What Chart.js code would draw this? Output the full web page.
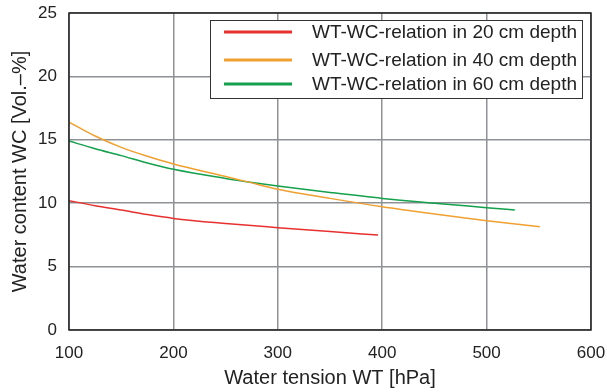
<!DOCTYPE html>
<html>
<head>
    <title>WT-WC relation</title>
    <script src="https://cdn.jsdelivr.net/npm/chart.js"></script>
    <style>
        html, body { margin: 0; padding: 0; background: #fff; }
        #wrap { width: 607px; height: 392px; }
    </style>
</head>
<body>
<div id="wrap"><canvas id="chart"></canvas></div>
<script>
    // values (water tension in hPa, water content in Vol.-%)
    var tension20 = [100, 125, 150, 175, 200, 250, 300, 350, 396];
    var content20 = [10.2, 9.8, 9.46, 9.1, 8.8, 8.4, 8.07, 7.76, 7.49];

    var tension40 = [100, 125, 150, 175, 200, 250, 270, 300, 350, 400, 450, 500, 551];
    var content40 = [16.4, 15.3, 14.4, 13.7, 13.09, 12.1, 11.7, 11.1, 10.38, 9.72, 9.15, 8.62, 8.15];

    var tension60 = [100, 125, 150, 175, 200, 250, 270, 300, 350, 400, 450, 500, 527];
    var content60 = [14.9, 14.3, 13.75, 13.17, 12.67, 11.95, 11.7, 11.36, 10.85, 10.38, 10.0, 9.65, 9.46];

    var seriesLabels = [
        "WT-WC-relation in 20 cm depth",
        "WT-WC-relation in 40 cm depth",
        "WT-WC-relation in 60 cm depth"
    ];
    var seriesColors = ["#e8312f", "#f0a030", "#14a04c"];

    var xTicks = [100, 200, 300, 400, 500, 600];
    var yTicks = [0, 5, 10, 15, 20, 25];

    function toPoints(xs, ys) {
        var pts = [];
        for (var i = 0; i < xs.length; i++) {
            pts.push({ x: xs[i], y: ys[i] });
        }
        return pts;
    }

    var FONT = "'Liberation Sans', Arial, Helvetica, sans-serif";
    var TEXT = "#222";

    // frame around the plot area + legend box inside it
    var framePlugin = {
        id: "frame",
        afterDatasetsDraw: function (chart) {
            var ctx = chart.ctx, a = chart.chartArea;
            ctx.save();
            ctx.strokeStyle = "#222";
            ctx.lineWidth = 1.5;
            ctx.strokeRect(a.left, a.top, a.right - a.left, a.bottom - a.top);

            // legend
            var bx = a.left + 141, by = a.top + 7, bw = 372, bh = 78;
            ctx.fillStyle = "#fff";
            ctx.fillRect(bx, by, bw, bh);
            ctx.strokeStyle = "#333";
            ctx.lineWidth = 1;
            ctx.strokeRect(bx + 0.5, by + 0.5, bw, bh);
            ctx.font = "19px " + FONT;
            ctx.textBaseline = "middle";
            ctx.textAlign = "left";
            var rows = [by + 12, by + 40, by + 64];
            chart.data.datasets.forEach(function (ds, i) {
                ctx.strokeStyle = ds.borderColor;
                ctx.lineWidth = 3;
                ctx.beginPath();
                ctx.moveTo(bx + 14, rows[i]);
                ctx.lineTo(bx + 82, rows[i]);
                ctx.stroke();
                ctx.fillStyle = TEXT;
                ctx.fillText(ds.label, bx + 102, rows[i] + 1);
            });
            ctx.restore();
        }
    };

    var datasets = [
        { label: seriesLabels[0], data: toPoints(tension20, content20), borderColor: seriesColors[0] },
        { label: seriesLabels[1], data: toPoints(tension40, content40), borderColor: seriesColors[1] },
        { label: seriesLabels[2], data: toPoints(tension60, content60), borderColor: seriesColors[2] }
    ];
    datasets.forEach(function (ds) {
        ds.borderWidth = 1.5;
        ds.pointRadius = 0;
        ds.fill = false;
        ds.cubicInterpolationMode = "monotone";
    });

    new Chart(document.getElementById("chart"), {
        type: "line",
        data: { datasets: datasets },
        plugins: [framePlugin],
        options: {
            responsive: true,
            maintainAspectRatio: false,
            animation: false,
            layout: { padding: { top: 13, right: 16, bottom: 0, left: 0 } },
            plugins: { legend: { display: false }, tooltip: { enabled: false } },
            scales: {
                x: {
                    type: "linear",
                    min: 100, max: 600,
                    afterBuildTicks: function (s) { s.ticks = xTicks.map(function (v) { return { value: v }; }); },
                    afterFit: function (s) { s.height = 62; s.paddingLeft = 0; s.paddingRight = 0; },
                    grid: { color: "#8e9196", lineWidth: 1.5, drawTicks: false },
                    border: { display: false },
                    ticks: { color: TEXT, font: { family: FONT, size: 17 }, padding: 13, maxRotation: 0 },
                    title: { display: true, text: "Water tension WT [hPa]", color: TEXT,
                             font: { family: FONT, size: 20 }, padding: { top: 0, bottom: 2 } }
                },
                y: {
                    min: 0, max: 25,
                    afterBuildTicks: function (s) { s.ticks = yTicks.map(function (v) { return { value: v }; }); },
                    afterFit: function (s) { s.width = 69; s.paddingTop = 0; s.paddingBottom = 0; },
                    grid: { color: "#8e9196", lineWidth: 1.5, drawTicks: false },
                    border: { display: false },
                    ticks: { color: TEXT, font: { family: FONT, size: 17 }, padding: 12 },
                    title: { display: true, text: "Water content WC [Vol.\u2013%]", color: TEXT,
                             font: { family: FONT, size: 20 }, padding: { top: 8, bottom: 0 } }
                }
            }
        }
    });
</script>
</body>
</html>
